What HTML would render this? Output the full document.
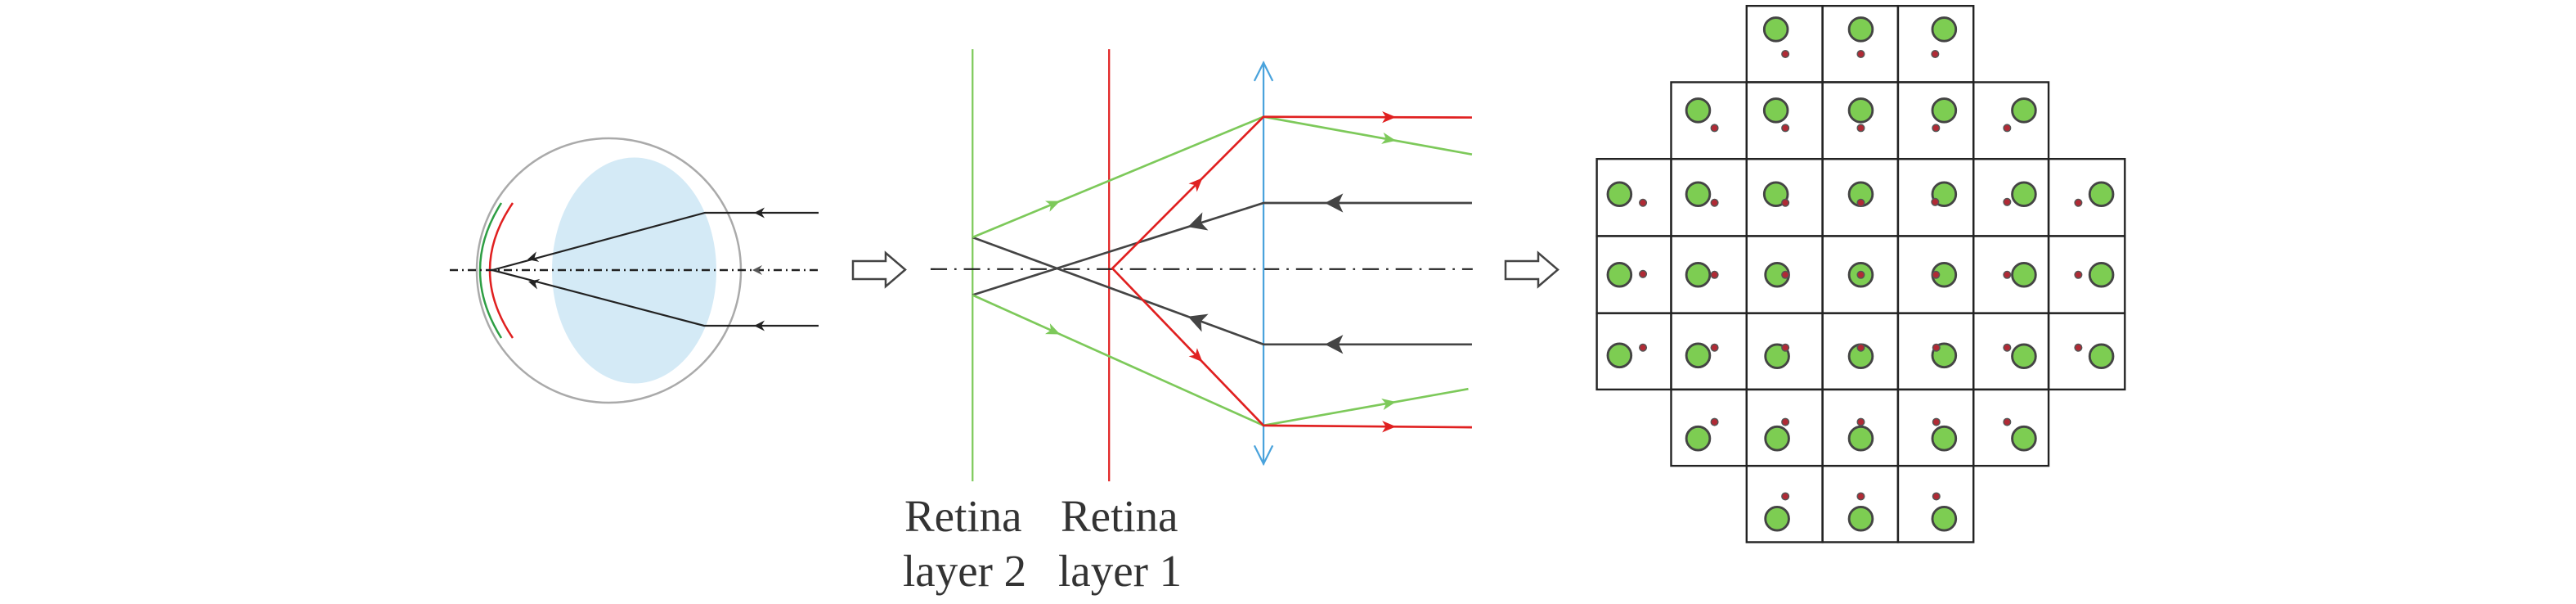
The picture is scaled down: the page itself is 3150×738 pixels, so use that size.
<!DOCTYPE html>
<html><head><meta charset="utf-8"><style>
html,body{margin:0;padding:0;background:#fff;}
svg{display:block;}
</style></head><body>
<svg width="3150" height="738" viewBox="0 0 3150 738" xmlns="http://www.w3.org/2000/svg">
<defs>
<marker id="ak" markerUnits="userSpaceOnUse" overflow="visible" orient="auto" refX="0" refY="0"><path d="M0,0 L-13,-6.5 L-9,0 L-13,6.5 z" fill="#222"/></marker>
<marker id="ag" markerUnits="userSpaceOnUse" overflow="visible" orient="auto" refX="0" refY="0"><path d="M0,0 L-12,-6 L-8,0 L-12,6 z" fill="#555"/></marker>
<marker id="mG" markerUnits="userSpaceOnUse" overflow="visible" orient="auto" refX="0" refY="0"><path d="M0,0 L-38,-16 L-28,0 L-38,16 z" fill="#7dc95a"/></marker>
<marker id="mR" markerUnits="userSpaceOnUse" overflow="visible" orient="auto" refX="0" refY="0"><path d="M0,0 L-38,-16 L-28,0 L-38,16 z" fill="#e02020"/></marker>
<marker id="mK" markerUnits="userSpaceOnUse" overflow="visible" orient="auto" refX="0" refY="0"><path d="M0,0 L-50,-26 L-38,0 L-50,26 z" fill="#444"/></marker>
</defs>

<!-- Eye -->
<ellipse cx="744.5" cy="330.5" rx="161.5" ry="161.5" fill="none" stroke="#aaa" stroke-width="2.5"/>
<ellipse cx="775.5" cy="330.5" rx="100.5" ry="138" fill="#d4eaf6"/>
<path d="M613,248 Q561,330 613,413" fill="none" stroke="#2e9e44" stroke-width="2.5"/>
<path d="M627,248 Q571,330 627,413" fill="none" stroke="#e02020" stroke-width="2.5"/>
<line x1="550" y1="330" x2="1001" y2="330" stroke="#222" stroke-width="2.5" stroke-dasharray="10 5 2 5"/>
<polyline points="1001,260 862,260 602,330" fill="none" stroke="#222" stroke-width="2.2"/>
<polyline points="1001,398 861,398 602,330" fill="none" stroke="#222" stroke-width="2.2"/>
<line x1="935" y1="260" x2="922" y2="260" stroke="none" marker-end="url(#ak)"/>
<line x1="935" y1="398" x2="922" y2="398" stroke="none" marker-end="url(#ak)"/>
<line x1="933" y1="330" x2="920" y2="330" stroke="none" marker-end="url(#ag)"/>
<line x1="657" y1="313.8" x2="645" y2="317" stroke="none" marker-end="url(#ak)"/>
<line x1="658" y1="347.1" x2="646" y2="344" stroke="none" marker-end="url(#ak)"/>

<!-- Hollow arrows -->
<path d="M1043,319 L1083,319 L1083,309 L1107,329.5 L1083,350 L1083,341 L1043,341 Z" fill="#fff" stroke="#444" stroke-width="2.5"/>
<path d="M1841,319 L1881,319 L1881,309 L1905,329.5 L1881,350 L1881,341 L1841,341 Z" fill="#fff" stroke="#444" stroke-width="2.5"/>

<!-- Middle optics diagram -->
<g transform="translate(1100,40) scale(0.4464)">
<line x1="200" y1="45" x2="200" y2="1228" stroke="#7dc95a" stroke-width="5"/>
<line x1="574" y1="45" x2="574" y2="1228" stroke="#e02020" stroke-width="5"/>
<line x1="85" y1="647" x2="1570" y2="647" stroke="#222" stroke-width="5" stroke-dasharray="45 20 6 20"/>
<line x1="997" y1="80" x2="997" y2="1182" stroke="#4aa3dc" stroke-width="5"/>
<polyline points="972,132 997,82 1022,132" fill="none" stroke="#4aa3dc" stroke-width="5"/>
<polyline points="972,1130 997,1180 1022,1130" fill="none" stroke="#4aa3dc" stroke-width="5"/>
<polyline points="1568,466 997,466 200,718" fill="none" stroke="#444" stroke-width="6"/>
<polyline points="1568,853 997,853 200,560" fill="none" stroke="#444" stroke-width="6"/>
<polyline points="200,560 997,230 1568,333" fill="none" stroke="#7dc95a" stroke-width="6"/>
<polyline points="200,718 997,1075 1558,975" fill="none" stroke="#7dc95a" stroke-width="6"/>
<polyline points="1568,232 997,230 583,645 997,1075 1568,1080" fill="none" stroke="#e02020" stroke-width="6"/>
<line x1="420" y1="468.9" x2="440" y2="460.6" marker-end="url(#mG)"/>
<line x1="420" y1="816.6" x2="440" y2="825.5" marker-end="url(#mG)"/>
<line x1="1340" y1="291.9" x2="1360" y2="295.5" marker-end="url(#mG)"/>
<line x1="1340" y1="1013.9" x2="1360" y2="1010.3" marker-end="url(#mG)"/>
<line x1="1340" y1="231" x2="1360" y2="231" marker-end="url(#mR)"/>
<line x1="1340" y1="1078" x2="1360" y2="1078" marker-end="url(#mR)"/>
<line x1="815" y1="412.5" x2="830" y2="397.4" marker-end="url(#mR)"/>
<line x1="815" y1="886" x2="830" y2="901.5" marker-end="url(#mR)"/>
<line x1="1185" y1="466" x2="1165" y2="466" marker-end="url(#mK)"/>
<line x1="1185" y1="853" x2="1165" y2="853" marker-end="url(#mK)"/>
<line x1="810" y1="525.1" x2="790" y2="531.5" marker-end="url(#mK)"/>
<line x1="810" y1="784.3" x2="790" y2="776.9" marker-end="url(#mK)"/>
</g>
<g font-family="'Liberation Serif', serif" font-size="55" fill="#333">
<text x="1106" y="649">Retina</text>
<text x="1104" y="716">layer 2</text>
<text x="1297" y="649">Retina</text>
<text x="1294" y="716">layer 1</text>
</g>

<!-- Grid -->
<g transform="translate(1900,0) scale(0.4783)">
<g fill="none" stroke="#222" stroke-width="5">
<rect x="493" y="15" width="194" height="195"/><rect x="687" y="15" width="193" height="195"/><rect x="880" y="15" width="193" height="195"/>
<rect x="300" y="210" width="193" height="196"/><rect x="493" y="210" width="194" height="196"/><rect x="687" y="210" width="193" height="196"/><rect x="880" y="210" width="193" height="196"/><rect x="1073" y="210" width="192" height="196"/>
<rect x="110" y="406" width="190" height="197"/><rect x="300" y="406" width="193" height="197"/><rect x="493" y="406" width="194" height="197"/><rect x="687" y="406" width="193" height="197"/><rect x="880" y="406" width="193" height="197"/><rect x="1073" y="406" width="192" height="197"/><rect x="1265" y="406" width="195" height="197"/>
<rect x="110" y="603" width="190" height="197"/><rect x="300" y="603" width="193" height="197"/><rect x="493" y="603" width="194" height="197"/><rect x="687" y="603" width="193" height="197"/><rect x="880" y="603" width="193" height="197"/><rect x="1073" y="603" width="192" height="197"/><rect x="1265" y="603" width="195" height="197"/>
<rect x="110" y="800" width="190" height="195"/><rect x="300" y="800" width="193" height="195"/><rect x="493" y="800" width="194" height="195"/><rect x="687" y="800" width="193" height="195"/><rect x="880" y="800" width="193" height="195"/><rect x="1073" y="800" width="192" height="195"/><rect x="1265" y="800" width="195" height="195"/>
<rect x="300" y="995" width="193" height="195"/><rect x="493" y="995" width="194" height="195"/><rect x="687" y="995" width="193" height="195"/><rect x="880" y="995" width="193" height="195"/><rect x="1073" y="995" width="192" height="195"/>
<rect x="493" y="1190" width="194" height="195"/><rect x="687" y="1190" width="193" height="195"/><rect x="880" y="1190" width="193" height="195"/>
</g>
<g fill="#7dcd52" stroke="#444" stroke-width="6">
<circle cx="568" cy="75" r="30"/><circle cx="785" cy="75" r="30"/><circle cx="998" cy="75" r="30"/>
<circle cx="369" cy="282" r="30"/><circle cx="568" cy="282" r="30"/><circle cx="785" cy="282" r="30"/><circle cx="998" cy="282" r="30"/><circle cx="1202" cy="282" r="30"/>
<circle cx="168" cy="496" r="30"/><circle cx="369" cy="496" r="30"/><circle cx="568" cy="496" r="30"/><circle cx="785" cy="496" r="30"/><circle cx="998" cy="496" r="30"/><circle cx="1202" cy="496" r="30"/><circle cx="1400" cy="496" r="30"/>
<circle cx="168" cy="702" r="30"/><circle cx="369" cy="702" r="30"/><circle cx="571" cy="702" r="30"/><circle cx="785" cy="702" r="30"/><circle cx="998" cy="702" r="30"/><circle cx="1202" cy="702" r="30"/><circle cx="1400" cy="702" r="30"/>
<circle cx="168" cy="908" r="30"/><circle cx="369" cy="908" r="30"/><circle cx="571" cy="910" r="30"/><circle cx="785" cy="910" r="30"/><circle cx="998" cy="908" r="30"/><circle cx="1202" cy="910" r="30"/><circle cx="1400" cy="910" r="30"/>
<circle cx="369" cy="1120" r="30"/><circle cx="571" cy="1120" r="30"/><circle cx="785" cy="1120" r="30"/><circle cx="998" cy="1120" r="30"/><circle cx="1202" cy="1120" r="30"/>
<circle cx="571" cy="1325" r="30"/><circle cx="785" cy="1325" r="30"/><circle cx="998" cy="1325" r="30"/>
</g>
<g fill="#b02a35" stroke="#555" stroke-width="3">
<circle cx="592" cy="138" r="9"/><circle cx="785" cy="138" r="9"/><circle cx="975" cy="138" r="9"/>
<circle cx="411" cy="327" r="9"/><circle cx="592" cy="327" r="9"/><circle cx="785" cy="327" r="9"/><circle cx="977" cy="327" r="9"/><circle cx="1159" cy="327" r="9"/>
<circle cx="228" cy="518" r="9"/><circle cx="411" cy="518" r="9"/><circle cx="592" cy="518" r="9"/><circle cx="785" cy="518" r="9"/><circle cx="975" cy="516" r="9"/><circle cx="1159" cy="516" r="9"/><circle cx="1341" cy="518" r="9"/>
<circle cx="228" cy="700" r="9"/><circle cx="411" cy="702" r="9"/><circle cx="592" cy="702" r="9"/><circle cx="785" cy="702" r="9"/><circle cx="977" cy="702" r="9"/><circle cx="1159" cy="702" r="9"/><circle cx="1341" cy="702" r="9"/>
<circle cx="228" cy="888" r="9"/><circle cx="411" cy="888" r="9"/><circle cx="592" cy="888" r="9"/><circle cx="785" cy="888" r="9"/><circle cx="978" cy="888" r="9"/><circle cx="1159" cy="888" r="9"/><circle cx="1341" cy="888" r="9"/>
<circle cx="411" cy="1078" r="9"/><circle cx="592" cy="1078" r="9"/><circle cx="785" cy="1078" r="9"/><circle cx="978" cy="1078" r="9"/><circle cx="1159" cy="1078" r="9"/>
<circle cx="592" cy="1268" r="9"/><circle cx="785" cy="1268" r="9"/><circle cx="978" cy="1268" r="9"/>
</g>
</g>
</svg>
</body></html>
